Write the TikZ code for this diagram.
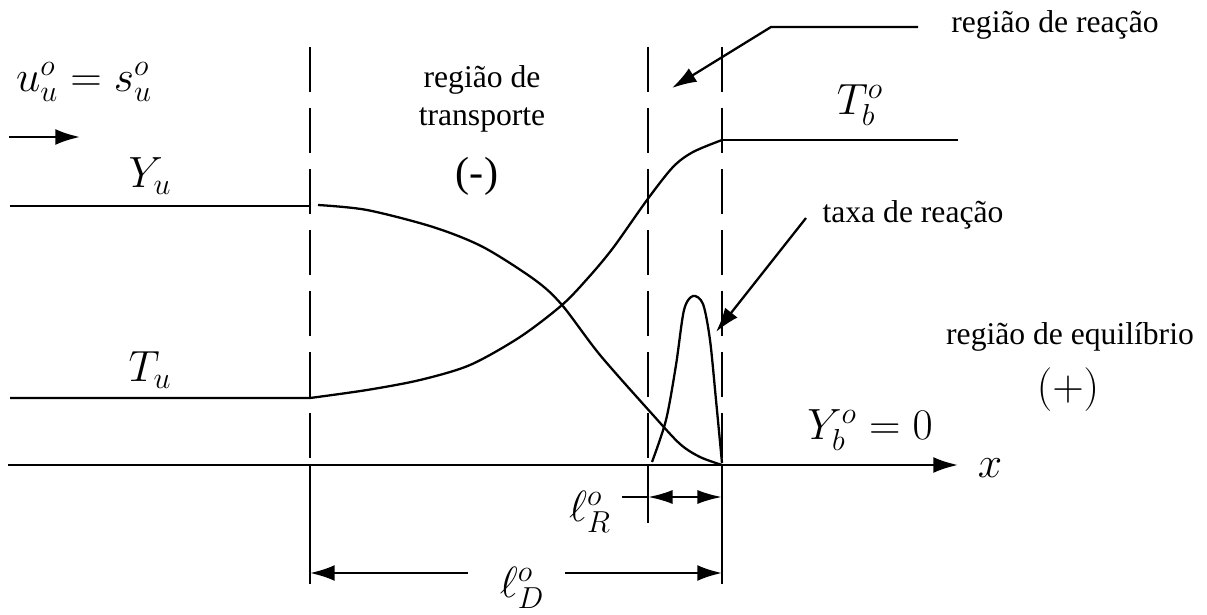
\documentclass[tikz,border=0pt]{standalone}
\usepackage{fontspec}
\setmainfont{Liberation Serif}
\usetikzlibrary{arrows.meta}

\begin{document}
\begin{tikzpicture}[
  x=0.02cm, y=-0.02cm,
  line width=1.3pt,
  txt/.style={font=\fontsize{18}{21.5}\selectfont, align=center, inner sep=0pt},
  sym/.style={font=\fontsize{25}{30}\selectfont, inner sep=0pt},
  arr/.style={-{Latex[length=14pt,width=9pt]}},
  dim/.style={{Latex[length=14pt,width=8pt]}-{Latex[length=14pt,width=8pt]}},
  guide/.style={dash pattern=on 0.9cm off 0.32cm}
]
\useasboundingbox (0,0) rectangle (1207,615);

\coordinate (o) at (8,465);
\coordinate (xend) at (958,465);
\coordinate (aT) at (310,47);  \coordinate (aM) at (310,465); \coordinate (aB) at (310,584);
\coordinate (bT) at (648,47);  \coordinate (bM) at (648,465); \coordinate (bB) at (648,523);
\coordinate (cT) at (722,47);  \coordinate (cM) at (722,465); \coordinate (cB) at (722,584);

\draw[guide] (aT) -- (aM);
\draw[guide] (bT) -- (bM);
\draw[guide] (cT) -- (cM);
\draw (aM) -- (aB);
\draw (bM) -- (bB);
\draw (cM) -- (cB);
\draw[arr] (o) -- (xend);
\node[sym] (x) at (990,468) {$x$};

\draw (10,206) -- (310,206);
\draw plot[smooth] coordinates {(318,205) (367,210) (433,227) (483,247) (535,280) (562,305) (600,355) (653,415) (680,444) (700,457) (722,465)};
\draw (10,398) -- (310,398)
  plot[smooth] coordinates {(310,398) (367,390) (420,380) (470,365) (520,337) (562,305) (588,278) (613,248) (647,200) (673,167) (693,152) (722,140)};
\draw (722,140) -- (958,140);
\draw plot[smooth] coordinates {(652,462) (666,420) (676,365) (684,310) (693,296) (703,304) (710,340) (716,400) (722,463)};

\node[sym] (uu) at (84,82) {$u_u^o = s_u^o$};
\coordinate (flowA) at (9,137);
\coordinate (flowB) at (80,137);
\draw[arr] (flowA) -- (flowB);
\node[sym] (Yu) at (150,176) {$Y_u$};
\node[sym] (Tu) at (150,370) {$T_u$};
\node[sym] (Tb) at (860,105) {$T_b^o$};
\node[sym] (Yb) at (870,430) {$Y_b^o = 0$};

\node[txt] (trans) at (482,99) {região de\\transporte};
\node[txt, font=\fontsize{24}{28}\selectfont] (minus) at (477,176) {(-)};
\node[txt] (reac) at (1055,25) {região de reação};
\node[txt] (taxa) at (913,215) {taxa de reação};
\node[txt] (equi) at (1070,337) {região de equilíbrio};
\node[sym] (plus) at (1068,390) {$(+)$};

\coordinate (reacA) at (918,27);
\coordinate (reacB) at (771,27);
\coordinate (reacC) at (672,88);
\draw[arr] (reacA) -- (reacB) -- (reacC);
\coordinate (taxaA) at (806,218);
\coordinate (taxaB) at (716,332);
\draw[arr] (taxaA) -- (taxaB);

\node[sym] (lR) at (590,512) {$\ell_R^o$};
\coordinate (lRs) at (622,497);
\coordinate (lRa) at (648,497);
\coordinate (lRb) at (722,497);
\draw (lRs) -- (lRa);
\draw[dim] (lRa) -- (lRb);
\node[sym] (lD) at (522,588) {$\ell_D^o$};
\coordinate (lDa) at (468,573);
\coordinate (lDb) at (565,573);
\draw[arr] (lDa) -- (aB |- lDa);
\draw[arr] (lDb) -- (cB |- lDb);
\end{tikzpicture}
\end{document}
